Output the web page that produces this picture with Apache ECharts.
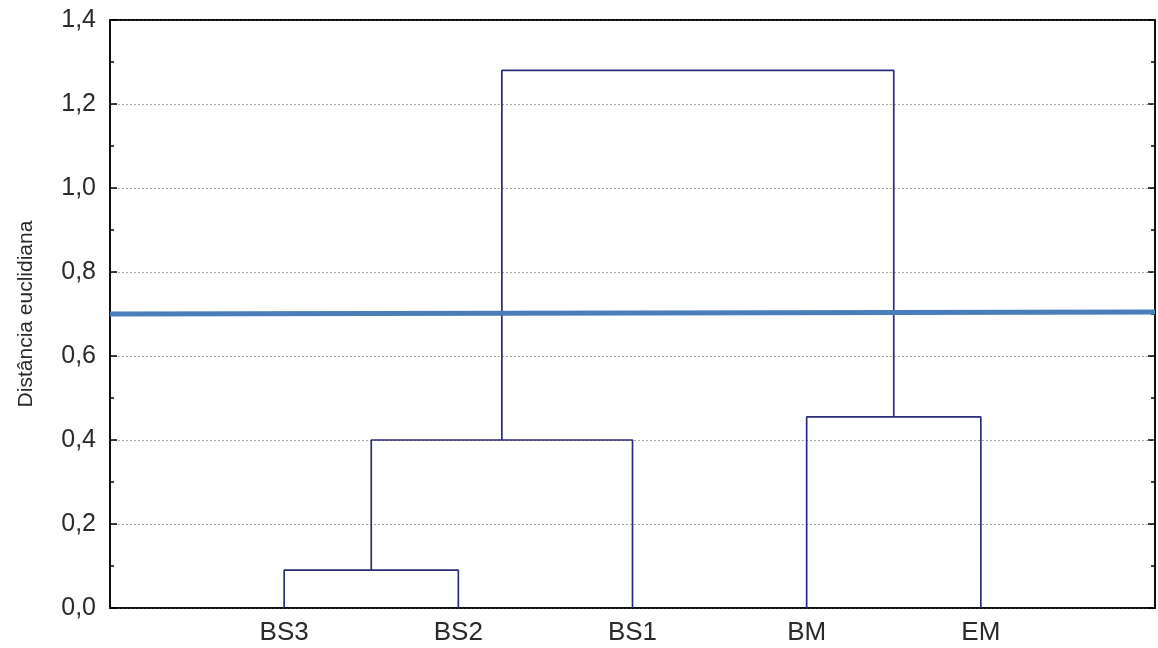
<!DOCTYPE html>
<html><head><meta charset="utf-8">
<script src="https://cdn.jsdelivr.net/npm/echarts@6/dist/echarts.min.js"></script>
<style>html,body{margin:0;padding:0;background:#fff}#c{width:1158px;height:648px}</style>
</head><body><div id="c"></div>
<script>
// Leaves in display order
const leaves = ['BS3', 'BS2', 'BS1', 'BM', 'EM'];
// Merges: [left node, right node, height]; nodes < leaves.length are leaves, others are earlier merges
const merges = [
  [0, 1, 0.09],
  [5, 2, 0.40],
  [3, 4, 0.455],
  [6, 7, 1.28]
];
// Cut line (left height, right height)
const cutLine = [0.70, 0.705];
const yTicks = [0, 0.2, 0.4, 0.6, 0.8, 1.0, 1.2, 1.4];

const nodeX = [], nodeY = [];
leaves.forEach((l, i) => { nodeX.push(i + 1); nodeY.push(0); });
const treeSeries = [];
merges.forEach(m => {
  const [a, b, h] = m;
  treeSeries.push({
    type: 'line', symbol: 'none', silent: true,
    lineStyle: { color: '#2b2b7c', width: 1.7 },
    data: [[nodeX[a], nodeY[a]], [nodeX[a], h], [nodeX[b], h], [nodeX[b], nodeY[b]]],
    z: 3
  });
  nodeX.push((nodeX[a] + nodeX[b]) / 2);
  nodeY.push(h);
});
const xMax = leaves.length + 1;

const chart = echarts.init(document.getElementById('c'));
const fmt = v => v.toFixed(1).replace('.', ',');
const FONT = 'Liberation Sans, Arial, sans-serif';
const tickCfg = () => ({
  axisLine: { show: true, onZero: false, lineStyle: { color: '#000', width: 1.5 } },
  axisTick: { show: true, inside: true, length: 7, lineStyle: { color: '#000', width: 1.5 } },
  minorTick: { show: true, splitNumber: 2, length: 4, lineStyle: { color: '#000', width: 1.5 } }
});
chart.setOption({
  animation: false,
  grid: { left: 110, right: 2, top: 20, bottom: 40, show: true, borderColor: '#000', borderWidth: 1.5, backgroundColor: 'transparent' },
  xAxis: [{
    type: 'value', min: 0, max: xMax, interval: 1,
    axisLine: { onZero: false, lineStyle: { color: '#000', width: 1.5 } },
    axisTick: { show: false },
    splitLine: { show: false },
    axisLabel: {
      fontFamily: FONT, fontSize: 26, color: '#2a2a2a', margin: 12,
      formatter: v => leaves[v - 1] || ''
    }
  }, {
    show: true, type: 'value', min: 0, max: xMax, position: 'top',
    axisLine: { show: true, onZero: false, lineStyle: { color: '#000', width: 1.5 } },
    axisTick: { show: false }, axisLabel: { show: false }, splitLine: { show: false }
  }],
  yAxis: [Object.assign({
    type: 'value', min: 0, max: 1.4, interval: 0.2,
    name: 'Distância euclidiana', nameLocation: 'middle', nameGap: 73,
    nameTextStyle: { fontFamily: FONT, fontSize: 21, color: '#2a2a2a' },
    axisLabel: { fontFamily: FONT, fontSize: 25, color: '#2a2a2a', margin: 14, formatter: fmt },
    splitLine: { show: true, lineStyle: { color: '#aaa', type: [2, 2], width: 1 } }
  }, tickCfg()), Object.assign({
    show: true, type: 'value', min: 0, max: 1.4, interval: 0.2, position: 'right', offset: 0,
    axisLabel: { show: false }, splitLine: { show: false }
  }, tickCfg())],
  series: treeSeries.concat([{
    type: 'line', symbol: 'none', silent: true,
    lineStyle: { color: '#4a7ebb', width: 5 },
    data: [[0, cutLine[0]], [xMax, cutLine[1]]],
    z: 4
  }, {
    type: 'scatter', silent: true, xAxisIndex: 1, yAxisIndex: 1,
    symbolSize: 0, data: [[0, 0], [xMax, 1.4]]
  }])
});
</script></body></html>
